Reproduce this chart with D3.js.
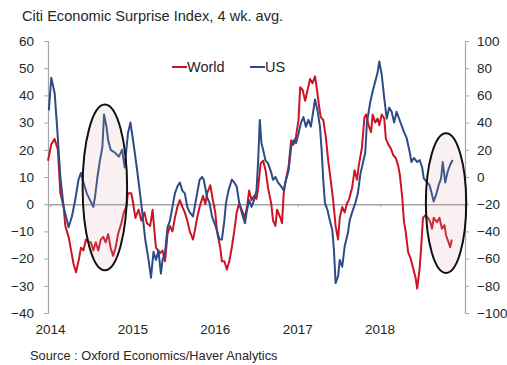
<!DOCTYPE html>
<html>
<head>
<meta charset="utf-8">
<script src="https://cdnjs.cloudflare.com/ajax/libs/d3/7.8.5/d3.min.js"></script>
<style>
  body { margin: 0; background: #fff; }
  svg { font-family: Arial, "Liberation Sans", sans-serif; }
</style>
</head>
<body>
<svg id="svg" width="507" height="365"></svg>
<script>
// DATA (time in decimal years)
var worldT = [2013.97, 2014.01, 2014.05, 2014.09, 2014.12, 2014.16, 2014.18, 2014.22, 2014.25, 2014.28, 2014.31, 2014.34, 2014.37, 2014.40, 2014.43, 2014.46, 2014.49, 2014.52, 2014.55, 2014.58, 2014.61, 2014.64, 2014.67, 2014.70, 2014.73, 2014.76, 2014.79, 2014.82, 2014.86, 2014.89, 2014.92, 2014.94, 2014.98, 2015.00, 2015.03, 2015.07, 2015.10, 2015.14, 2015.17, 2015.21, 2015.24, 2015.25, 2015.28, 2015.33, 2015.36, 2015.39, 2015.42, 2015.45, 2015.48, 2015.51, 2015.54, 2015.57, 2015.60, 2015.63, 2015.66, 2015.69, 2015.73, 2015.75, 2015.78, 2015.81, 2015.85, 2015.88, 2015.90, 2015.94, 2015.97, 2016.00, 2016.02, 2016.06, 2016.08, 2016.11, 2016.14, 2016.17, 2016.20, 2016.23, 2016.26, 2016.29, 2016.32, 2016.36, 2016.39, 2016.41, 2016.44, 2016.47, 2016.50, 2016.52, 2016.55, 2016.58, 2016.61, 2016.64, 2016.68, 2016.70, 2016.73, 2016.75, 2016.79, 2016.81, 2016.83, 2016.85, 2016.89, 2016.92, 2016.95, 2016.98, 2017.01, 2017.03, 2017.06, 2017.09, 2017.12, 2017.15, 2017.18, 2017.21, 2017.23, 2017.26, 2017.28, 2017.31, 2017.34, 2017.37, 2017.40, 2017.43, 2017.46, 2017.49, 2017.51, 2017.54, 2017.57, 2017.60, 2017.62, 2017.66, 2017.69, 2017.72, 2017.74, 2017.78, 2017.81, 2017.83, 2017.86, 2017.89, 2017.91, 2017.94, 2017.97, 2017.99, 2018.02, 2018.05, 2018.07, 2018.10, 2018.13, 2018.16, 2018.19, 2018.22, 2018.24, 2018.27, 2018.29, 2018.31, 2018.34, 2018.37, 2018.40, 2018.43, 2018.45, 2018.48, 2018.50, 2018.52, 2018.55, 2018.58, 2018.61, 2018.63, 2018.65, 2018.69, 2018.72, 2018.75, 2018.78, 2018.80, 2018.83, 2018.85, 2018.87];
var worldV = [16, 22, 24, 20, 4, -1, -8, -12, -17, -22, -25, -21, -16, -17, -13, -14, -14, -17, -14, -17, -13, -12, -14, -11, -16, -19, -16, -11, -7, -3, -1, 4, 4, 1, -5, -2, -6, -3, -7, -8, -2, -6, -16, -18, -17, -21, -11, -8, -10, -5, -1, 1.5, -1, -3, -6, -10, -13, -10, -5, -1, 3, 0, 4, 7, 1.5, -3, -10, -16, -21, -21, -24, -21, -16, -10, -3, 0.4, -2, -5, 0, 5, 1.5, 3, 2, 6, 15, 16, 12.5, 6, 0, -6, -8, -2, -5, -7, 4, 8, 14, 23.5, 22, 25, 31, 43, 42, 38, 42, 46, 44.5, 47, 43, 36, 32, 31, 25, 16, 9, 1.5, -8, -13, -5, -1, -3, 0.4, 1.5, 6, 12.5, 9, 14, 21, 32, 33, 29, 26.5, 33, 30, 31.5, 29, 33, 31.5, 24, 22, 20.5, 18, 17, 14, 10.7, 2, -6.6, -10, -17.6, -20, -23.5, -27, -31, -23.5, -15, -5, -4, -5, -6.6, -9, -5, -6.6, -5, -9, -7.7, -11.4, -14, -15.8, -13];

var usT = [2013.98, 2014.01, 2014.05, 2014.08, 2014.12, 2014.16, 2014.20, 2014.22, 2014.26, 2014.30, 2014.34, 2014.37, 2014.40, 2014.44, 2014.48, 2014.52, 2014.54, 2014.57, 2014.60, 2014.63, 2014.65, 2014.68, 2014.70, 2014.73, 2014.78, 2014.83, 2014.87, 2014.90, 2014.94, 2014.97, 2014.99, 2015.03, 2015.07, 2015.11, 2015.15, 2015.19, 2015.22, 2015.25, 2015.28, 2015.31, 2015.34, 2015.36, 2015.39, 2015.42, 2015.45, 2015.48, 2015.51, 2015.54, 2015.57, 2015.60, 2015.63, 2015.66, 2015.69, 2015.73, 2015.75, 2015.78, 2015.81, 2015.84, 2015.86, 2015.90, 2015.93, 2015.96, 2015.99, 2016.02, 2016.05, 2016.08, 2016.11, 2016.13, 2016.16, 2016.20, 2016.23, 2016.26, 2016.29, 2016.32, 2016.36, 2016.38, 2016.41, 2016.44, 2016.47, 2016.50, 2016.52, 2016.54, 2016.56, 2016.58, 2016.61, 2016.64, 2016.68, 2016.70, 2016.73, 2016.76, 2016.80, 2016.83, 2016.85, 2016.89, 2016.92, 2016.95, 2016.98, 2017.01, 2017.04, 2017.07, 2017.10, 2017.13, 2017.16, 2017.19, 2017.21, 2017.24, 2017.27, 2017.29, 2017.31, 2017.33, 2017.36, 2017.39, 2017.42, 2017.44, 2017.46, 2017.49, 2017.51, 2017.54, 2017.57, 2017.61, 2017.63, 2017.66, 2017.70, 2017.73, 2017.76, 2017.79, 2017.82, 2017.84, 2017.88, 2017.91, 2017.94, 2017.97, 2017.99, 2018.02, 2018.05, 2018.08, 2018.11, 2018.14, 2018.17, 2018.20, 2018.23, 2018.26, 2018.29, 2018.32, 2018.36, 2018.38, 2018.41, 2018.45, 2018.48, 2018.51, 2018.53, 2018.57, 2018.60, 2018.63, 2018.65, 2018.68, 2018.71, 2018.74, 2018.76, 2018.79, 2018.82, 2018.85, 2018.88];
var usV = [49, 73, 62, 37, 0, -22, -32, -37, -29, -17, -2, 3, -4, -12, -17, -22, -15, 0, 12, 22, 46, 37, 27, 20, 18, 15, 20, 7, 32, 40, 32, 15, -4, -24, -46, -61, -74, -55, -61, -54, -71, -61, -56, -37, -32, -22, -12, -7, -4, -10, -12, -22, -26, -29, -22, -12, -2, 0, -2, -15, -19, -29, -34, -39, -46, -46, -32, -19, -10, -2, -4, -7, -19, -26, -34, -26, -17, -22, -17, -10, 12, 42, 25, 20, 12, 10, 3, -2, 0, -4, -7, -10, -4, 5, 22, 27, 25, 32, 40, 44, 37, 42, 37, 49, 57, 49, 37, 20, -2, -19, -24, -32, -39, -54, -78, -73, -61, -66, -51, -41, -32, -26, -19, -12, 2, 10, 18, 40, 55, 63, 70, 77, 85, 75, 58, 43, 51, 48, 40, 48, 43, 38, 33, 29, 18, 11, 14, 11, 12.5, 7, -1, -4, -6, -13, -18, -13, -6, -1, 11, -4, 4, 9, 12.5];

var yearTicks = [2014, 2015, 2016, 2017, 2018];
var leftTicks = [60, 50, 40, 30, 20, 10, 0, -10, -20, -30, -40];
var rightTicks = [100, 80, 60, 40, 20, 0, -20, -40, -60, -80, -100];

// highlighted periods: centre (year, left-axis value) and radii (years, left-axis units)
var circles = [
  { t: 2014.66, v: 6.2, rt: 0.27, rv: 30.5 },
  { t: 2018.80, v: 0.4, rt: 0.245, rv: 25.7 }
];

// SETUP
var svg = d3.select("#svg"),
  plotLeft = 48, plotRight = 465, plotTop = 41, plotBottom = 313;

var x = d3.scaleLinear().domain([2013.97, 2019.03]).range([plotLeft, plotRight]),
  yL = d3.scaleLinear().domain([-40, 60]).range([plotBottom, plotTop]),
  yR = d3.scaleLinear().domain([-100, 100]).range([plotBottom, plotTop]);

var red = "#cc1426", blue = "#2d4b85", grey = "#a6a6a6", txt = "#262626";

// title + source
svg.append("text")
  .attr("x", 22).attr("y", 21)
  .attr("font-size", 14.6).attr("fill", txt)
  .text("Citi Economic Surprise Index, 4 wk. avg.");

svg.append("text")
  .attr("x", 30).attr("y", 360)
  .attr("font-size", 12.8).attr("fill", txt)
  .text("Source : Oxford Economics/Haver Analytics");

// axes
var axL = svg.append("g")
  .attr("transform", "translate(" + plotLeft + ",0)")
  .call(d3.axisLeft(yL).tickValues(leftTicks).tickSize(4).tickPadding(10));

var axR = svg.append("g")
  .attr("transform", "translate(" + plotRight + ",0)")
  .call(d3.axisRight(yR).tickValues(rightTicks).tickSize(4).tickPadding(8));

[axL, axR].forEach(function (a) {
  a.select(".domain").attr("stroke", grey).attr("stroke-width", 1.2);
  a.selectAll(".tick line").attr("stroke", grey);
  a.selectAll(".tick text")
    .attr("font-size", 13.5)
    .attr("font-family", "Arial, 'Liberation Sans', sans-serif")
    .attr("fill", txt);
});

// zero line with small year ticks
var axX = svg.append("g")
  .attr("transform", "translate(0," + yL(0) + ")")
  .call(d3.axisBottom(x).tickValues(yearTicks).tickSize(3).tickFormat(""));
axX.select(".domain").attr("stroke", grey).attr("stroke-width", 1.5);
axX.selectAll(".tick line").attr("stroke", grey);

svg.append("g").selectAll("text")
  .data(yearTicks)
  .enter().append("text")
  .attr("x", function (d) { return x(d); })
  .attr("y", 334)
  .attr("text-anchor", "middle")
  .attr("font-size", 13.5)
  .attr("fill", txt)
  .text(function (d) { return d; });

// lines
var worldLine = d3.line()
  .x(function (d, i) { return x(worldT[i]); })
  .y(function (d) { return yL(d); });

var usLine = d3.line()
  .x(function (d, i) { return x(usT[i]); })
  .y(function (d) { return yR(d); });

svg.append("path")
  .datum(worldV)
  .attr("fill", "none")
  .attr("stroke", red)
  .attr("stroke-width", 2)
  .attr("stroke-linejoin", "round")
  .attr("d", worldLine);

svg.append("path")
  .datum(usV)
  .attr("fill", "none")
  .attr("stroke", blue)
  .attr("stroke-width", 2)
  .attr("stroke-linejoin", "round")
  .attr("d", usLine);

// ellipses
svg.append("g").selectAll("ellipse")
  .data(circles)
  .enter().append("ellipse")
  .attr("cx", function (d) { return x(d.t); })
  .attr("cy", function (d) { return yL(d.v); })
  .attr("rx", function (d) { return x(d.t + d.rt) - x(d.t); })
  .attr("ry", function (d) { return yL(0) - yL(d.rv); })
  .attr("fill", "rgba(215,170,170,0.16)")
  .attr("stroke", "#111")
  .attr("stroke-width", 2);

// legend
var legend = svg.append("g").attr("font-size", 14.5).attr("fill", txt);
[["World", red, 172], ["US", blue, 250]].forEach(function (l) {
  legend.append("line")
    .attr("x1", l[2]).attr("x2", l[2] + 15)
    .attr("y1", 67).attr("y2", 67)
    .attr("stroke", l[1]).attr("stroke-width", 2);
  legend.append("text")
    .attr("x", l[2] + 15).attr("y", 72)
    .text(l[0]);
});
</script>
</body>
</html>
